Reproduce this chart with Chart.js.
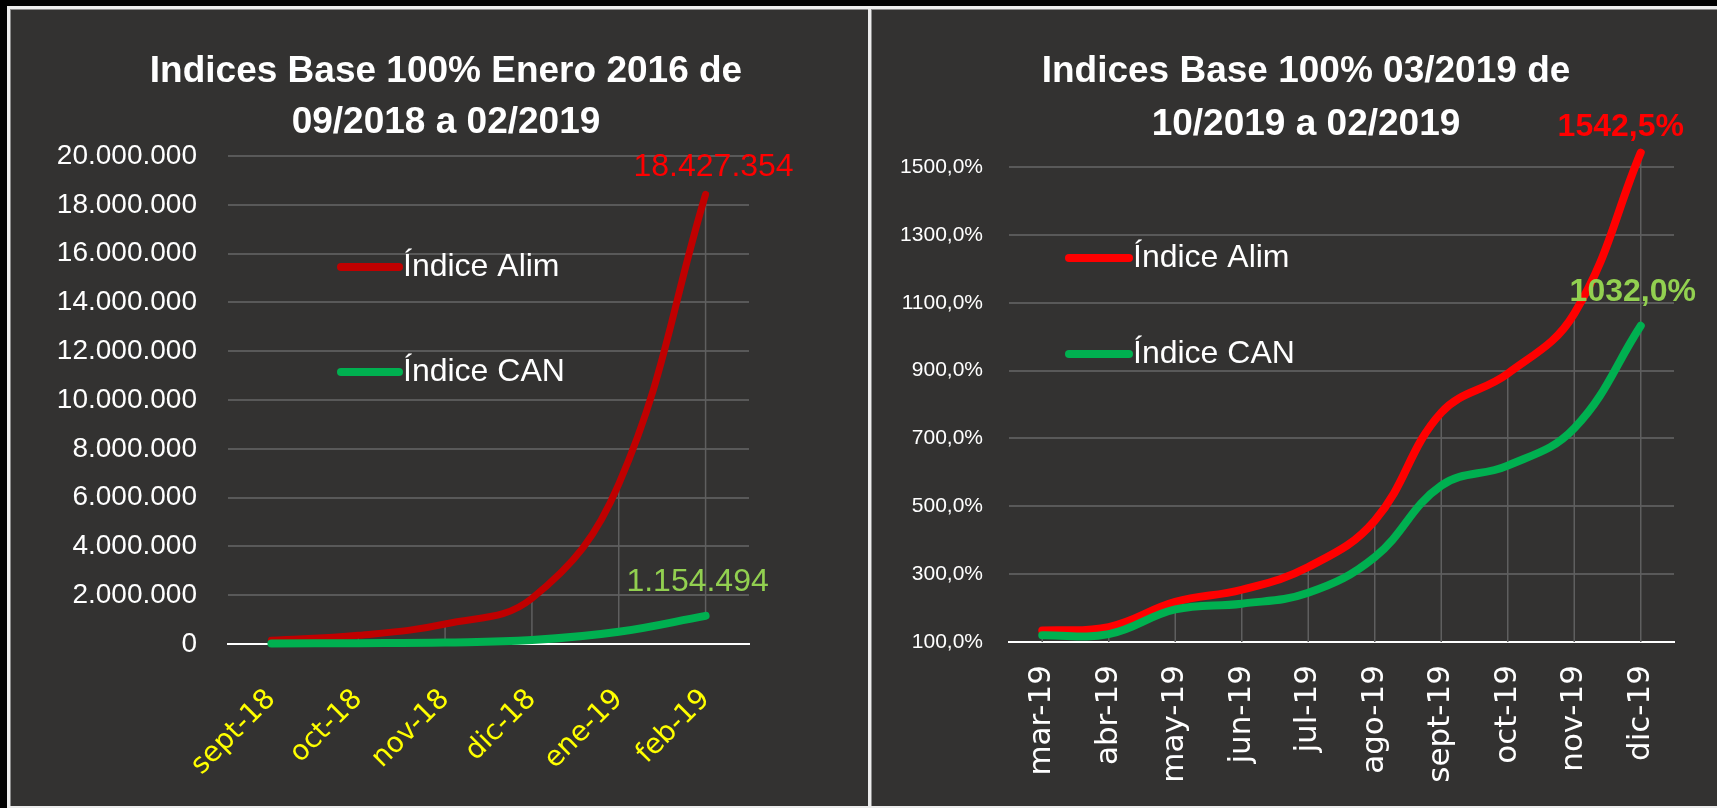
<!DOCTYPE html>
<html>
<head>
<meta charset="utf-8">
<script src="https://cdn.jsdelivr.net/npm/chart.js@4.4.1/dist/chart.umd.min.js"></script>
<style>
  html, body { margin: 0; padding: 0; background: #000; width: 1717px; height: 808px; overflow: hidden; }
  #frame { position: absolute; left: 7px; top: 6px; right: 0; bottom: 0; background: #ececec; }
  .panel { position: absolute; top: 9px; height: 797px; background: #333231; box-shadow: inset 1px 1px 0 #8c8c8c; }
  #p1 { left: 10px; width: 858px; }
  #p2 { left: 871px; width: 846px; }
  canvas { display: block; }
</style>
</head>
<body>
<div id="frame"></div>
<div class="panel" id="p1"><canvas id="c1" width="858" height="797"></canvas></div>
<div class="panel" id="p2"><canvas id="c2" width="846" height="797"></canvas></div>
<script>
/* ---------- Datos gráfico 1 ---------- */
const leftTitle = ['Indices Base 100% Enero 2016 de', '09/2018 a 02/2019'];
const leftMonths = ['sept-18', 'oct-18', 'nov-18', 'dic-18', 'ene-19', 'feb-19'];
const leftAlim = [150000, 355000, 820000, 1870000, 6550000, 18427354];
const leftCan = [25000, 35000, 60000, 160000, 500000, 1154494];
const leftMin = 0, leftMax = 20000000, leftStep = 2000000;

/* ---------- Datos gráfico 2 ---------- */
const rightTitle = ['Indices Base 100% 03/2019 de', '10/2019 a 02/2019'];
const rightMonths = ['mar-19', 'abr-19', 'may-19', 'jun-19', 'jul-19', 'ago-19', 'sept-19', 'oct-19', 'nov-19', 'dic-19'];
const rightAlim = [134, 144, 218, 254, 321, 458, 776, 891, 1068, 1542.5];
const rightCan = [120, 123, 196, 213, 245, 350, 561, 620, 730, 1032];
const rightMin = 100, rightMax = 1500, rightStep = 200;

const seriesNames = ['Índice Alim', 'Índice CAN'];

const SANS = '"Liberation Sans", Arial, sans-serif';
const GRID = '#595959';

function fmtDots(v) {
    return Math.round(v).toString().replace(/\B(?=(\d{3})+(?!\d))/g, '.');
}
function fmtPct(v) {
    return v.toFixed(1).replace('.', ',') + '%';
}

// configuración de adornos por canvas (fuera de options para que Chart.js no la resuelva)
const decor = {};

/* ---------- Plugin: título, leyenda, líneas de unión y etiquetas ---------- */
const decorPlugin = {
    id: 'decor',
    beforeDatasetsDraw(chart) {
        const d = decor[chart.canvas.id];
        const ctx = chart.ctx;
        const xs = chart.scales.x, ys = chart.scales.y;
        const a = chart.data.datasets[0].data;
        const b = chart.data.datasets[1].data;
        ctx.save();
        ctx.strokeStyle = '#5f5f5f';
        ctx.lineWidth = 1.5;
        a.forEach((v, i) => {
            const x = xs.getPixelForValue(i);
            const top = ys.getPixelForValue(Math.max(v, b[i]));
            const bot = d.dropToAxis ? ys.getPixelForValue(ys.min) : ys.getPixelForValue(Math.min(v, b[i]));
            ctx.beginPath();
            ctx.moveTo(x, top);
            ctx.lineTo(x, bot);
            ctx.stroke();
        });
        ctx.restore();
    },
    afterDraw(chart) {
        const d = decor[chart.canvas.id];
        const ctx = chart.ctx;
        const xs = chart.scales.x, ys = chart.scales.y;
        ctx.save();
        // título
        ctx.fillStyle = '#ffffff';
        ctx.font = 'bold 37px ' + SANS;
        ctx.textAlign = 'center';
        ctx.textBaseline = 'middle';
        ctx.fillText(d.title[0], d.titleX, d.titleY[0]);
        ctx.fillText(d.title[1], d.titleX, d.titleY[1]);
        // leyenda
        d.legend.forEach(item => {
            ctx.strokeStyle = item.color;
            ctx.lineWidth = 8;
            ctx.lineCap = 'round';
            ctx.beginPath();
            ctx.moveTo(item.x0, item.y);
            ctx.lineTo(item.x1, item.y);
            ctx.stroke();
            ctx.fillStyle = '#ffffff';
            ctx.font = '32px ' + SANS;
            ctx.textAlign = 'left';
            ctx.fillText(item.text, item.x1 + 4, item.y);
        });
        // etiquetas del último punto
        d.labels.forEach(l => {
            const ds = chart.data.datasets[l.ds].data;
            const i = ds.length - 1;
            const x = xs.getPixelForValue(i) + l.dx;
            const y = ys.getPixelForValue(ds[i]) + l.dy;
            ctx.fillStyle = l.color;
            ctx.font = (l.bold ? 'bold ' : '') + '32px ' + SANS;
            ctx.textAlign = 'center';
            ctx.fillText(d.fmt(ds[i]), x, y);
        });
        ctx.restore();
    }
};

function makeChart(id, cfg) {
    decor[id] = cfg.decor;
    return new Chart(document.getElementById(id).getContext('2d'), {
        type: 'line',
        data: {
            labels: cfg.months,
            datasets: [
                { label: seriesNames[0], data: cfg.alim, borderColor: cfg.red, borderWidth: cfg.redW, order: 1 },
                { label: seriesNames[1], data: cfg.can, borderColor: '#00B050', borderWidth: 8, order: 0 }
            ]
        },
        options: {
            responsive: false,
            animation: false,
            devicePixelRatio: 1,
            layout: { padding: cfg.padding },
            elements: {
                point: { radius: 0 },
                line: { tension: 0.4, borderCapStyle: 'round', borderJoinStyle: 'round', capBezierPoints: false, fill: false }
            },
            datasets: { line: { clip: false } },
            scales: {
                x: {
                    offset: true,
                    grid: { display: false, offset: true },
                    border: { display: true, color: '#ffffff', width: 2 },
                    ticks: {
                        color: cfg.xColor,
                        font: { family: '"DejaVu Sans", Verdana, sans-serif', size: cfg.xSize },
                        minRotation: cfg.rot, maxRotation: cfg.rot,
                        autoSkip: false,
                        padding: cfg.xPad
                    },
                    afterFit(s) { s.height = cfg.xHeight; }
                },
                y: {
                    min: cfg.min, max: cfg.max,
                    grid: { color: GRID, lineWidth: 2, drawTicks: false },
                    border: { display: false },
                    ticks: {
                        stepSize: cfg.step,
                        color: '#ffffff',
                        font: { family: SANS, size: cfg.ySize },
                        padding: cfg.yPad,
                        callback: cfg.yFmt
                    },
                    afterFit(s) { s.width = cfg.yWidth; }
                }
            },
            plugins: {
                legend: { display: false },
                tooltip: { enabled: false }
            }
        },
        plugins: [decorPlugin]
    });
}

makeChart('c1', {
    months: leftMonths, alim: leftAlim, can: leftCan,
    red: '#C00000', redW: 7,
    min: leftMin, max: leftMax, step: leftStep,
    padding: { left: 0, top: 147, right: 119, bottom: 0 },
    yWidth: 218, yPad: 31, ySize: 28, yFmt: v => fmtDots(v),
    xHeight: 162, xPad: 31, xSize: 28, xColor: '#FFFF00', rot: 45,
    decor: {
        title: leftTitle, titleX: 436, titleY: [63, 114],
        dropToAxis: false, fmt: fmtDots,
        legend: [
            { text: seriesNames[0], color: '#C00000', x0: 331, x1: 389, y: 258 },
            { text: seriesNames[1], color: '#00B050', x0: 331, x1: 389, y: 363 }
        ],
        labels: [
            { ds: 0, dx: 8, dy: -27, color: '#FF0000', bold: false },
            { ds: 1, dx: -8, dy: -34, color: '#92D050', bold: false }
        ]
    }
});

makeChart('c2', {
    months: rightMonths, alim: rightAlim, can: rightCan,
    red: '#FF0000', redW: 8,
    min: rightMin, max: rightMax, step: rightStep,
    padding: { left: 0, top: 158, right: 43, bottom: 0 },
    yWidth: 138, yPad: 26, ySize: 21, yFmt: v => fmtPct(v),
    xHeight: 164, xPad: 15, xSize: 31, xColor: '#ffffff', rot: 90,
    decor: {
        title: rightTitle, titleX: 435, titleY: [63, 116],
        dropToAxis: true, fmt: fmtPct,
        legend: [
            { text: seriesNames[0], color: '#FF0000', x0: 198, x1: 258, y: 249 },
            { text: seriesNames[1], color: '#00B050', x0: 198, x1: 258, y: 345 }
        ],
        labels: [
            { ds: 0, dx: -20, dy: -25, color: '#FF0000', bold: true },
            { ds: 1, dx: -8, dy: -34, color: '#92D050', bold: true }
        ]
    }
});
</script>
</body>
</html>
